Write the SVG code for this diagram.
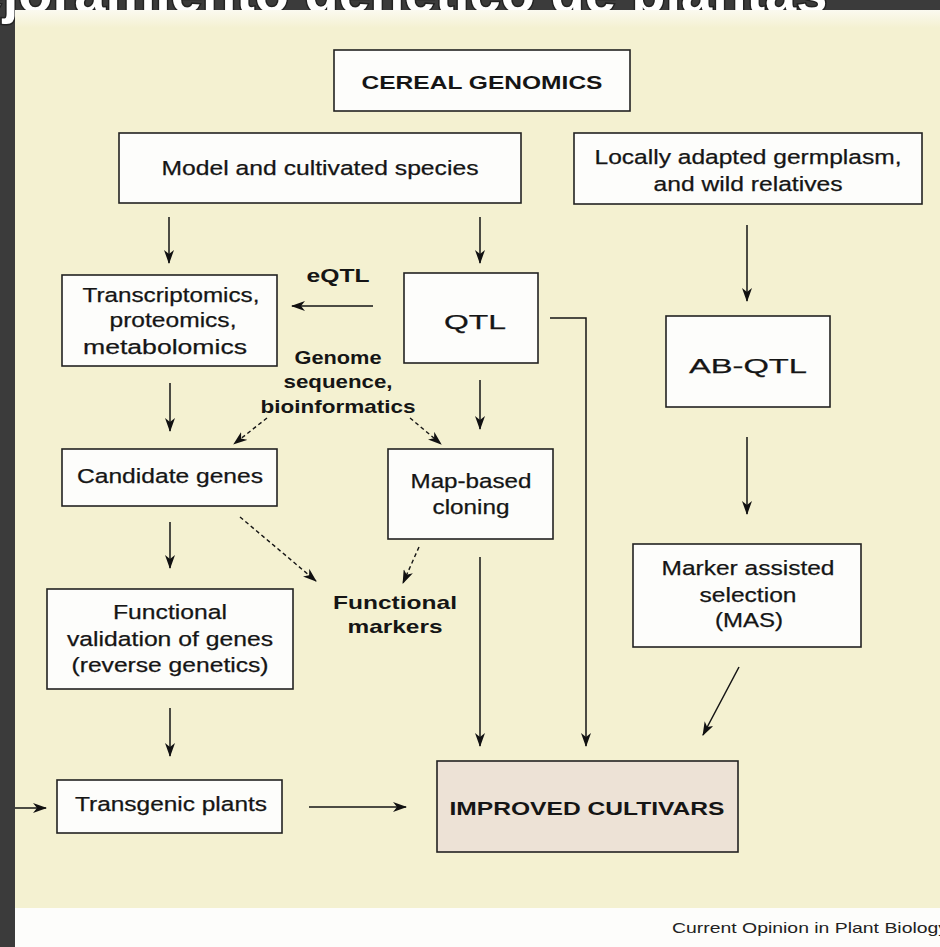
<svg xmlns="http://www.w3.org/2000/svg" width="940" height="947" viewBox="0 0 940 947">
<defs>
<style>
.box{fill:#fdfdfb;stroke:#222;stroke-width:1.6}
.t{font-family:"Liberation Sans",Arial,sans-serif;font-size:20.5px;fill:#151515;stroke:#151515;stroke-width:0.25;text-anchor:middle}
.b{font-family:"Liberation Sans",Arial,sans-serif;font-weight:bold;font-size:19px;fill:#151515;text-anchor:middle}
.ln{fill:none;stroke:#151515;stroke-width:1.5;marker-end:url(#ah)}
.dl{fill:none;stroke:#151515;stroke-width:1.4;stroke-dasharray:4 3;marker-end:url(#ah)}
</style>
<marker id="ah" viewBox="0 0 14 10" refX="13" refY="5" markerWidth="14" markerHeight="10" markerUnits="userSpaceOnUse" orient="auto">
<path d="M0,0 L14,5 L0,10 L4,5 z" fill="#111"/>
</marker>
<linearGradient id="topg" x1="0" y1="0" x2="0" y2="1">
<stop offset="0" stop-color="#fbfaf0"/>
<stop offset="1" stop-color="#f4f1d1"/>
</linearGradient>
</defs>

<!-- background -->
<rect x="0" y="0" width="940" height="947" fill="#3b3b3b"/>
<text x="-75" y="12" font-family="'Liberation Sans',Arial,sans-serif" font-weight="bold" font-size="56" fill="#fff" stroke="#222" stroke-width="3" paint-order="stroke">Mejoramiento genético de plantas</text>
<rect x="15" y="10" width="925" height="900" fill="#f4f1d1"/>
<rect x="15" y="10" width="925" height="18" fill="url(#topg)"/>
<rect x="15" y="908" width="925" height="39" fill="#fdfdfb"/>
<text x="672" y="933" font-family="'Liberation Sans',Arial,sans-serif" font-size="15" fill="#222" textLength="276" lengthAdjust="spacingAndGlyphs">Current Opinion in Plant Biology</text>

<!-- connectors -->
<g id="connectors">
<path class="ln" d="M169,217 V263"/>
<path class="ln" d="M480,217 V263"/>
<path class="ln" d="M747,225 V301"/>
<path class="ln" d="M373,306 H292"/>
<path class="ln" d="M550,318 H586 V746"/>
<path class="ln" d="M170,383 V431"/>
<path class="ln" d="M480,380 V429"/>
<path class="dl" d="M267,418 L234,444"/>
<path class="dl" d="M410,418 L441,444"/>
<path class="ln" d="M170,522 V568"/>
<path class="dl" d="M240,517 L316,581"/>
<path class="dl" d="M419,547 L403,583"/>
<path class="ln" d="M480,557 V746"/>
<path class="ln" d="M747,437 V514"/>
<path class="ln" d="M739,667 L703,735"/>
<path class="ln" d="M170,708 V756"/>
<path class="ln" d="M15,808 H46"/>
<path class="ln" d="M309,807 H406"/>
</g>

<!-- labels -->
<g id="lbl-eqtl"><text class="b" x="338" y="282" textLength="63" lengthAdjust="spacingAndGlyphs">eQTL</text></g>
<g id="lbl-genome">
<text class="b" x="338" y="364" textLength="87" lengthAdjust="spacingAndGlyphs">Genome</text>
<text class="b" x="338" y="388" textLength="109" lengthAdjust="spacingAndGlyphs">sequence,</text>
<text class="b" x="338" y="413" textLength="155" lengthAdjust="spacingAndGlyphs">bioinformatics</text>
</g>
<g id="lbl-fm">
<text class="b" x="395" y="609" textLength="124" lengthAdjust="spacingAndGlyphs">Functional</text>
<text class="b" x="395" y="633" textLength="95" lengthAdjust="spacingAndGlyphs">markers</text>
</g>

<!-- nodes -->
<g id="cereal">
<rect class="box" x="334" y="50" width="296" height="61"/>
<text class="b" x="482" y="89" font-size="21" textLength="241" lengthAdjust="spacingAndGlyphs">CEREAL GENOMICS</text>
</g>
<g id="model">
<rect class="box" x="119" y="133" width="402" height="70"/>
<text class="t" x="320" y="175" textLength="317" lengthAdjust="spacingAndGlyphs">Model and cultivated species</text>
</g>
<g id="locally">
<rect class="box" x="574" y="133" width="348" height="71"/>
<text class="t" x="748" y="164" textLength="307" lengthAdjust="spacingAndGlyphs">Locally adapted germplasm,</text>
<text class="t" x="748" y="191" textLength="189" lengthAdjust="spacingAndGlyphs">and wild relatives</text>
</g>
<g id="transcriptomics">
<rect class="box" x="62" y="275" width="215" height="91"/>
<text class="t" x="171" y="302" textLength="177" lengthAdjust="spacingAndGlyphs">Transcriptomics,</text>
<text class="t" x="173" y="327" textLength="127" lengthAdjust="spacingAndGlyphs">proteomics,</text>
<text class="t" x="165" y="354" textLength="164" lengthAdjust="spacingAndGlyphs">metabolomics</text>
</g>
<g id="qtl">
<rect class="box" x="404" y="273" width="134" height="90"/>
<text class="t" x="475" y="329" font-size="29" textLength="62" lengthAdjust="spacingAndGlyphs">QTL</text>
</g>
<g id="abqtl">
<rect class="box" x="666" y="316" width="164" height="91"/>
<text class="t" x="748" y="373" font-size="31" textLength="118" lengthAdjust="spacingAndGlyphs">AB-QTL</text>
</g>
<g id="candidate">
<rect class="box" x="62" y="449" width="215" height="57"/>
<text class="t" x="170" y="483" textLength="186" lengthAdjust="spacingAndGlyphs">Candidate genes</text>
</g>
<g id="mapbased">
<rect class="box" x="388" y="449" width="165" height="90"/>
<text class="t" x="471" y="488" textLength="121" lengthAdjust="spacingAndGlyphs">Map-based</text>
<text class="t" x="471" y="514" textLength="77" lengthAdjust="spacingAndGlyphs">cloning</text>
</g>
<g id="mas">
<rect class="box" x="633" y="544" width="228" height="103"/>
<text class="t" x="748" y="575" textLength="173" lengthAdjust="spacingAndGlyphs">Marker assisted</text>
<text class="t" x="748" y="602" textLength="97" lengthAdjust="spacingAndGlyphs">selection</text>
<text class="t" x="749" y="627" textLength="68" lengthAdjust="spacingAndGlyphs">(MAS)</text>
</g>
<g id="validation">
<rect class="box" x="47" y="589" width="246" height="100"/>
<text class="t" x="170" y="619" textLength="114" lengthAdjust="spacingAndGlyphs">Functional</text>
<text class="t" x="170" y="646" textLength="206" lengthAdjust="spacingAndGlyphs">validation of genes</text>
<text class="t" x="170" y="672" textLength="197" lengthAdjust="spacingAndGlyphs">(reverse genetics)</text>
</g>
<g id="transgenic">
<rect class="box" x="57" y="780" width="225" height="53"/>
<text class="t" x="171" y="811" textLength="192" lengthAdjust="spacingAndGlyphs">Transgenic plants</text>
</g>
<g id="improved">
<rect x="437" y="761" width="301" height="91" fill="#ede2d6" stroke="#222" stroke-width="1.6"/>
<text class="b" x="587" y="815" font-size="22" textLength="275" lengthAdjust="spacingAndGlyphs">IMPROVED CULTIVARS</text>
</g>
</svg>
